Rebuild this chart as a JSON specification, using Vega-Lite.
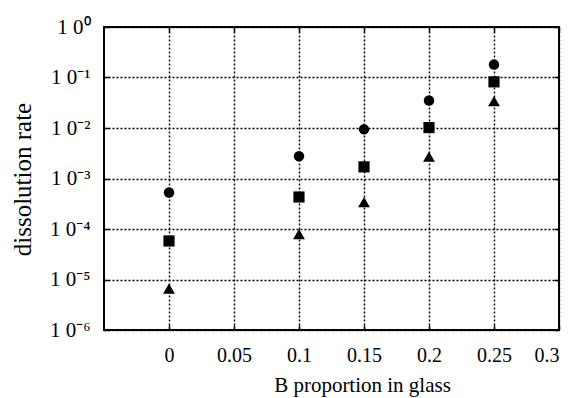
{
  "$schema": "https://vega.github.io/schema/vega-lite/v6.json",
  "autosize": "none",
  "width": 455,
  "height": 303,
  "padding": {"left": 104, "top": 27, "right": 19, "bottom": 68},
  "background": "white",
  "data": {"values": [
    {"B": 0, "rate": 0.00053, "series": "circle"},
    {"B": 0.1, "rate": 0.00275, "series": "circle"},
    {"B": 0.15, "rate": 0.0094, "series": "circle"},
    {"B": 0.2, "rate": 0.035, "series": "circle"},
    {"B": 0.25, "rate": 0.18, "series": "circle"},
    {"B": 0, "rate": 0.000058, "series": "square"},
    {"B": 0.1, "rate": 0.00043, "series": "square"},
    {"B": 0.15, "rate": 0.0017, "series": "square"},
    {"B": 0.2, "rate": 0.0102, "series": "square"},
    {"B": 0.25, "rate": 0.082, "series": "square"},
    {"B": 0, "rate": 0.0000066, "series": "triangle"},
    {"B": 0.1, "rate": 0.000079, "series": "triangle"},
    {"B": 0.15, "rate": 0.00034, "series": "triangle"},
    {"B": 0.2, "rate": 0.0027, "series": "triangle"},
    {"B": 0.25, "rate": 0.034, "series": "triangle"}
  ]},
  "layer": [
    {
      "mark": {"type": "point", "filled": true, "color": "black", "opacity": 1},
      "encoding": {
        "x": {"field": "B", "type": "quantitative",
          "scale": {"domain": [-0.05, 0.3], "nice": false, "zero": false},
          "axis": {"orient": "bottom", "title": "B proportion in glass",
            "values": [0, 0.05, 0.1, 0.15, 0.2, 0.25, 0.3], "format": "~g",
            "grid": true, "gridColor": "black", "gridDash": [2, 2], "gridWidth": 1.4, "gridOpacity": 1,
            "domain": false, "ticks": true, "tickSize": -5, "tickColor": "black", "tickWidth": 1.4,
            "labelPadding": 20, "labelFontSize": 20, "labelColor": "black", "labelFont": "Liberation Serif",
            "titleFontSize": 21, "titleFont": "Liberation Serif", "titleFontWeight": "normal", "titleColor": "black",
            "titleX": 258, "titleY": 61, "titleBaseline": "alphabetic", "titleAnchor": null}},
        "y": {"field": "rate", "type": "quantitative",
          "scale": {"type": "log", "domain": [0.000001, 1], "nice": false},
          "axis": {"orient": "left", "title": "dissolution rate",
            "values": [1, 0.1, 0.01, 0.001, 0.0001, 0.00001, 0.000001],
            "labelExpr": "'1 0' + ['⁰','⁻¹','⁻²','⁻³','⁻⁴','⁻⁵','⁻⁶'][round(-log(datum.value)/LN10)]",
            "grid": true, "gridColor": "black", "gridDash": [2, 2], "gridWidth": 1.4, "gridOpacity": 1,
            "domain": false, "ticks": true, "tickSize": -5, "tickColor": "black", "tickWidth": 1.4,
            "labelPadding": 19, "labelFontSize": 21, "labelColor": "black", "labelFont": "Liberation Serif",
            "titleFontSize": 25, "titleFont": "Liberation Serif", "titleFontWeight": "normal", "titleColor": "black",
            "titleX": -82, "titleY": 152, "titleBaseline": "middle", "titleAngle": -90}},
        "shape": {"field": "series", "type": "nominal",
          "scale": {"domain": ["circle", "square", "triangle"], "range": ["circle", "square", "triangle-up"]},
          "legend": null},
        "size": {"field": "series", "type": "nominal",
          "scale": {"domain": ["circle", "square", "triangle"], "range": [110, 140, 135]},
          "legend": null}
      }
    },
    {
      "mark": {"type": "point", "opacity": 0},
      "encoding": {
        "x": {"field": "B", "type": "quantitative",
          "axis": {"orient": "top", "title": null, "labels": false, "grid": false, "domain": false,
            "values": [0, 0.05, 0.1, 0.15, 0.2, 0.25, 0.3],
            "ticks": true, "tickSize": -5, "tickColor": "black", "tickWidth": 1.4}},
        "y": {"field": "rate", "type": "quantitative",
          "axis": {"orient": "right", "title": null, "labels": false, "grid": false, "domain": false,
            "values": [1, 0.1, 0.01, 0.001, 0.0001, 0.00001, 0.000001],
            "ticks": true, "tickSize": -5, "tickColor": "black", "tickWidth": 1.4}}
      }
    }
  ],
  "resolve": {"axis": {"x": "independent", "y": "independent"}},
  "config": {
    "font": "Liberation Serif",
    "view": {"stroke": "black", "strokeWidth": 2}
  }
}
